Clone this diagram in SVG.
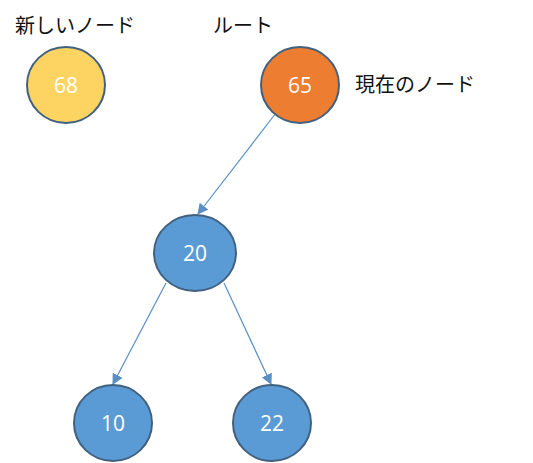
<svg xmlns="http://www.w3.org/2000/svg" width="533" height="463" viewBox="0 0 533 463">
<style>
.node{stroke:#41617f;stroke-width:2}
.num{font-family:"Open Sans","Liberation Sans",sans-serif;font-size:21px;fill:#ffffff;text-anchor:middle;dominant-baseline:central}
.lbl{font-family:"Noto Sans CJK JP","Noto Sans",sans-serif;font-size:20px;fill:#111111}
.edge{stroke:#5b8fc4;stroke-width:1.2;fill:none;marker-end:url(#arr)}
</style>
<defs>
<marker id="arr" viewBox="0 0 10 10" refX="9" refY="5" markerWidth="11" markerHeight="11" markerUnits="userSpaceOnUse" orient="auto">
<path d="M0,0 L10,5 L0,10 z" fill="#5b8fc4"/>
</marker>
</defs>
<rect width="533" height="463" fill="#ffffff"/>
<g id="connectors">
<line class="edge" x1="276" y1="113" x2="198" y2="214"/>
<line class="edge" x1="166" y1="283" x2="113" y2="384"/>
<line class="edge" x1="224" y1="283" x2="271" y2="384"/>
</g>
<g id="label-new"><text class="lbl" x="15" y="33">新しいノード</text></g>
<g id="label-root"><text class="lbl" x="213" y="33">ルート</text></g>
<g id="label-current"><text class="lbl" x="355" y="92">現在のノード</text></g>
<g id="node-68"><ellipse class="node" cx="66" cy="85" rx="39" ry="38" fill="#fdd462"/><text class="num" x="66" y="85" fill="#fff8e8">68</text></g>
<g id="node-65"><ellipse class="node" cx="300" cy="85" rx="39" ry="38" fill="#ed7d31"/><text class="num" x="300" y="85">65</text></g>
<g id="node-20"><ellipse class="node" cx="195" cy="253" rx="41" ry="38" fill="#5b9bd5"/><text class="num" x="195" y="253">20</text></g>
<g id="node-10"><ellipse class="node" cx="113" cy="423" rx="39" ry="38" fill="#5b9bd5"/><text class="num" x="113" y="423">10</text></g>
<g id="node-22"><ellipse class="node" cx="272" cy="423" rx="39" ry="38" fill="#5b9bd5"/><text class="num" x="272" y="423">22</text></g>
</svg>
